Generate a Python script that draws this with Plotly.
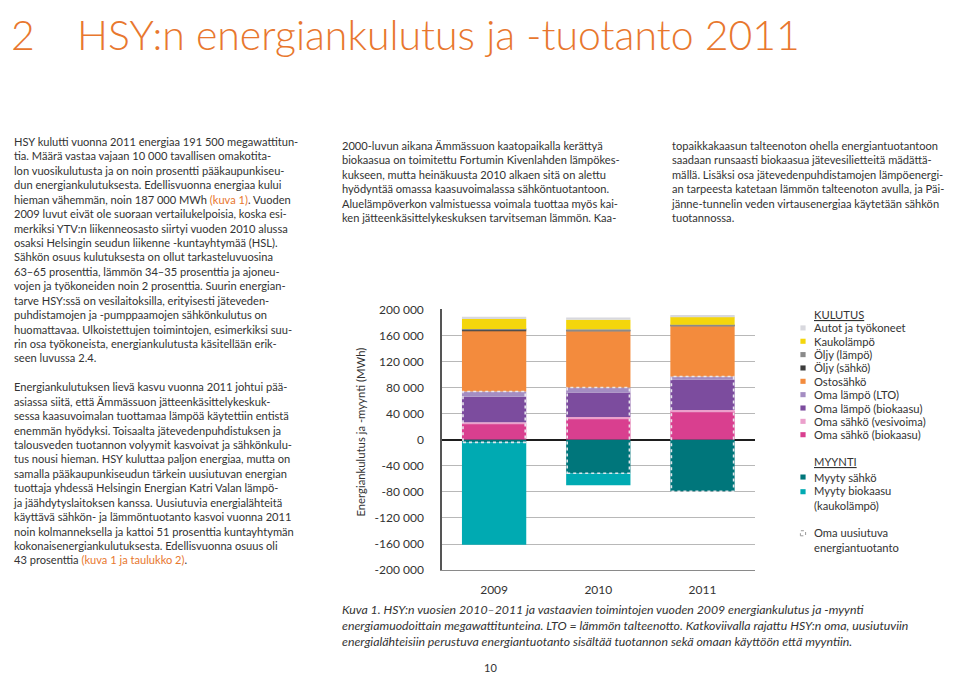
import plotly.graph_objects as go

W, H = 959, 676

# ---------------- data ----------------
years = ["2009", "2010", "2011"]

# Kulutus (consumption), stacked bottom-up
oma_sahko_biokaasu = [25000, 32000, 43500]
oma_sahko_vesivoima = [2000, 3000, 2000]
oma_lampo_biokaasu = [39000, 37500, 47000]
oma_lampo_lto = [8000, 7500, 4500]
ostosahko = [93000, 86500, 77000]
oljy_sahko = [1000, 1000, 1000]
oljy_lampo = [2000, 2000, 1500]
kaukolampo = [15000, 14500, 12000]
autot_tyokoneet = [3500, 3500, 3000]

# Myynti (sales), negative
myyty_sahko = [-4000, -51500, -79000]
myyty_biokaasu = [-157000, -18500, 0]

y_tickvals = [200000, 160000, 120000, 80000, 40000, 0, -40000, -80000, -120000, -160000, -200000]
y_ticktext = ["200 000", "160 000", "120 000", "80 000", "40 000", "0",
              "-40 000", "-80 000", "-120 000", "-160 000", "-200 000"]

# stacking order bottom-up (name, values, colour)
kulutus = [
    ("Oma sähkö (biokaasu)", oma_sahko_biokaasu, "#d93f8f"),
    ("Oma sähkö (vesivoima)", oma_sahko_vesivoima, "#eba0cc"),
    ("Oma lämpö (biokaasu)", oma_lampo_biokaasu, "#7c4c9e"),
    ("Oma lämpö (LTO)", oma_lampo_lto, "#a48dc2"),
    ("Ostosähkö", ostosahko, "#f38b3d"),
    ("Öljy (sähkö)", oljy_sahko, "#3d3d3d"),
    ("Öljy (lämpö)", oljy_lampo, "#8a8a8a"),
    ("Kaukolämpö", kaukolampo, "#f4d60c"),
    ("Autot ja työkoneet", autot_tyokoneet, "#d8d8de"),
]
myynti = [
    ("Myyty sähkö", myyty_sahko, "#00767b"),
    ("Myyty biokaasu<br>(kaukolämpö)", myyty_biokaasu, "#00aab2"),
]

FONT = "Lato"
TXT = "#333333"
ORANGE = "#e8772e"

fig = go.Figure()
for name, vals, col in kulutus + myynti:
    fig.add_trace(go.Bar(x=years, y=vals, name=name, marker_color=col,
                         marker_line_width=0))

bargap = 0.383
bw = 1 - bargap

# dotted outline around own renewable production (from data)
shapes = []
for i in range(len(years)):
    top = oma_sahko_biokaasu[i] + oma_sahko_vesivoima[i] + oma_lampo_biokaasu[i] + oma_lampo_lto[i]
    bottom = myyty_sahko[i]
    shapes.append(dict(type="rect", xref="x", yref="y", x0=i - bw / 2 + 0.01, x1=i + bw / 2 - 0.01,
                       y0=bottom, y1=top, line=dict(color="rgba(235,235,240,0.95)", width=1.6, dash="dot"),
                       layer="above"))

def px(x):
    return x / W

def py(y):
    return 1 - y / H

annotations = []

# page heading
annotations.append(dict(text="2", x=px(1), y=py(19), xref="paper", yref="paper", xanchor="left",
                        yanchor="middle", showarrow=False,
                        font=dict(family=FONT, size=41, color=ORANGE, weight=300)))
annotations.append(dict(text="HSY:n energiankulutus ja -tuotanto 2011", x=px(67), y=py(19), xref="paper",
                        yref="paper", xanchor="left", yanchor="middle", showarrow=False,
                        font=dict(family=FONT, size=41, color=ORANGE, weight=300)))

col1 = [
    "HSY kulutti vuonna 2011 energiaa 191 500 megawattitun-",
    "tia. Määrä vastaa vajaan 10 000 tavallisen omakotita-",
    "lon vuosikulutusta ja on noin prosentti pääkaupunkiseu-",
    "dun energiankulutuksesta. Edellisvuonna energiaa kului",
    "hieman vähemmän, noin 187 000 MWh <span style='color:%s'>(kuva 1)</span>. Vuoden" % ORANGE,
    "2009 luvut eivät ole suoraan vertailukelpoisia, koska esi-",
    "merkiksi YTV:n liikenneosasto siirtyi vuoden 2010 alussa",
    "osaksi Helsingin seudun liikenne -kuntayhtymää (HSL).",
    "Sähkön osuus kulutuksesta on ollut tarkasteluvuosina",
    "63–65 prosenttia, lämmön 34–35 prosenttia ja ajoneu-",
    "vojen ja työkoneiden noin 2 prosenttia. Suurin energian-",
    "tarve HSY:ssä on vesilaitoksilla, erityisesti jäteveden-",
    "puhdistamojen ja -pumppaamojen sähkönkulutus on",
    "huomattavaa. Ulkoistettujen toimintojen, esimerkiksi suu-",
    "rin osa työkoneista, energiankulutusta käsitellään erik-",
    "seen luvussa 2.4.",
    " ",
    "Energiankulutuksen lievä kasvu vuonna 2011 johtui pää-",
    "asiassa siitä, että Ämmässuon jätteenkäsittelykeskuk-",
    "sessa kaasuvoimalan tuottamaa lämpöä käytettiin entistä",
    "enemmän hyödyksi. Toisaalta jätevedenpuhdistuksen ja",
    "talousveden tuotannon volyymit kasvoivat ja sähkönkulu-",
    "tus nousi hieman. HSY kuluttaa paljon energiaa, mutta on",
    "samalla pääkaupunkiseudun tärkein uusiutuvan energian",
    "tuottaja yhdessä Helsingin Energian Katri Valan lämpö-",
    "ja jäähdytyslaitoksen kanssa. Uusiutuvia energialähteitä",
    "käyttävä sähkön- ja lämmöntuotanto kasvoi vuonna 2011",
    "noin kolmanneksella ja kattoi 51 prosenttia kuntayhtymän",
    "kokonaisenergiankulutuksesta. Edellisvuonna osuus oli",
    "43 prosenttia <span style='color:%s'>(kuva 1 ja taulukko 2)</span>." % ORANGE,
]
col2 = [
    "2000-luvun aikana Ämmässuon kaatopaikalla kerättyä",
    "biokaasua on toimitettu Fortumin Kivenlahden lämpökes-",
    "kukseen, mutta heinäkuusta 2010 alkaen sitä on alettu",
    "hyödyntää omassa kaasuvoimalassa sähköntuotantoon.",
    "Aluelämpöverkon valmistuessa voimala tuottaa myös kai-",
    "ken jätteenkäsittelykeskuksen tarvitseman lämmön. Kaa-",
]
col3 = [
    "topaikkakaasun talteenoton ohella energiantuotantoon",
    "saadaan runsaasti biokaasua jätevesilietteitä mädättä-",
    "mällä. Lisäksi osa jätevedenpuhdistamojen lämpöenergi-",
    "an tarpeesta katetaan lämmön talteenoton avulla, ja Päi-",
    "jänne-tunnelin veden virtausenergiaa käytetään sähkön",
    "tuotannossa.",
]
caption = [
    "Kuva 1. HSY:n vuosien 2010–2011 ja vastaavien toimintojen vuoden 2009 energiankulutus ja -myynti",
    "energiamuodoittain megawattitunteina. LTO = lämmön talteenotto. Katkoviivalla rajattu HSY:n oma, uusiutuviin",
    "energialähteisiin perustuva energiantuotanto sisältää tuotannon sekä omaan käyttöön että myyntiin.",
]

LH = 14.45
BODY = 11.1

def add_block(lines, x, first_y, size=BODY, lh=LH, italic=False):
    last_y = first_y + (len(lines) - 1) * lh
    annotations.append(dict(text="<br>".join(lines), x=px(x), y=py((first_y + last_y) / 2),
                            xref="paper", yref="paper", xanchor="left", yanchor="middle",
                            align="left", showarrow=False,
                            font=dict(family=FONT, size=size, color=TXT,
                                      style="italic" if italic else "normal")))

add_block(col1, 3, 133)
add_block(col2, 332, 133)
add_block(col3, 661, 133)
add_block(caption, 332, 607, size=12.3, lh=16, italic=True)

annotations.append(dict(text="10", x=px(482), y=py(666), xref="paper", yref="paper",
                        xanchor="center", yanchor="middle", showarrow=False,
                        font=dict(family=FONT, size=11, color=TXT)))

# y-axis title
annotations.append(dict(text="Energiankulutus ja -myynti (MWh)", x=px(353), y=py(426),
                        xref="paper", yref="paper", xanchor="center", yanchor="middle",
                        textangle=-90, showarrow=False,
                        font=dict(family=FONT, size=11.3, color=TXT)))

# ---------------- manual legend ----------------
LX_SW = 795
LX_TX = 804
LSTEP = 13.65

def legend_text(t, y):
    annotations.append(dict(text=t, x=px(LX_TX), y=py(y), xref="paper", yref="paper",
                            xanchor="left", yanchor="middle", align="left", showarrow=False,
                            font=dict(family=FONT, size=11.2, color=TXT)))

def swatch(y, col, dotted=False):
    s = 2.6
    if dotted:
        shapes.append(dict(type="rect", xref="paper", yref="paper", x0=px(LX_SW - s), x1=px(LX_SW + s),
                           y0=py(y + s), y1=py(y - s), line=dict(color="#9a9a9a", width=1, dash="dot")))
    else:
        shapes.append(dict(type="rect", xref="paper", yref="paper", x0=px(LX_SW - s), x1=px(LX_SW + s),
                           y0=py(y + s), y1=py(y - s), fillcolor=col, line=dict(width=0)))

legend_text("<u>KULUTUS</u>", 305)
yy = 319
for name, vals, col in reversed(kulutus):
    swatch(yy, col)
    legend_text(name, yy)
    yy += LSTEP

legend_text("<u>MYYNTI</u>", 456)
yy = 471.5
for name, vals, col in myynti:
    swatch(yy, col)
    legend_text(name, yy + (6.5 if "<br>" in name else 0))
    yy += 15

swatch(529, None, dotted=True)
legend_text("Oma uusiutuva<br>energiantuotanto", 535.5)

fig.update_layout(
    width=W, height=H,
    margin=dict(l=0, r=0, t=0, b=0),
    paper_bgcolor="white", plot_bgcolor="white",
    barmode="relative", bargap=bargap,
    showlegend=False,
    font=dict(family=FONT, color=TXT),
    xaxis=dict(domain=[434 / W, 746.6 / W], type="category", range=[-0.5, 2.5],
               showgrid=False, showline=True, linecolor="#8a8a8a", linewidth=1,
               ticks="outside", ticklen=8, tickcolor="rgba(0,0,0,0)",
               tickfont=dict(family=FONT, size=12, color=TXT), fixedrange=True),
    yaxis=dict(domain=[(H - 566.7) / H, (H - 300) / H], range=[-200000, 200000],
               tickvals=y_tickvals, ticktext=y_ticktext,
               showgrid=True, gridcolor="#b8b8b8", gridwidth=1,
               zeroline=True, zerolinecolor="#1e1e1e", zerolinewidth=2,
               showline=True, linecolor="#555555", linewidth=1.5,
               ticks="outside", ticklen=14, tickcolor="rgba(0,0,0,0)",
               tickfont=dict(family=FONT, size=12, color=TXT), fixedrange=True),
    shapes=shapes,
    annotations=annotations,
)

fig.write_html("out.html")
